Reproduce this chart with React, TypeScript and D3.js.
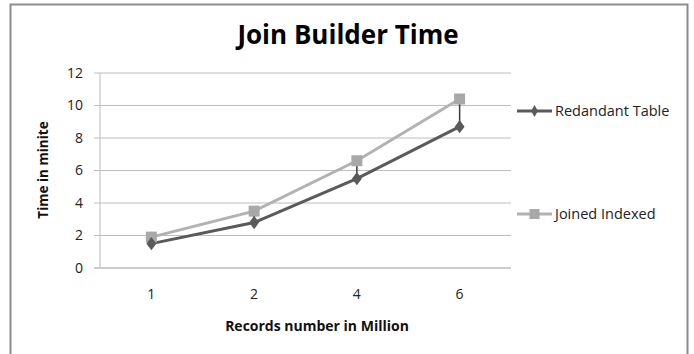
import React from "react";
import * as d3 from "d3";

const categories = ["1", "2", "4", "6"];
const redundantTable = [1.5, 2.8, 5.5, 8.7];
const joinedIndexed = [1.9, 3.5, 6.6, 10.4];
const yTicks = [0, 2, 4, 6, 8, 10, 12];
const seriesNames = ["Redandant Table", "Joined Indexed"];

const W = 694;
const H = 354;
const plot = { left: 100, right: 511, top: 73, bottom: 268 };
const darkColor = "#5a5a5a";
const lightColor = "#b2b2b2";
const font = "'Open Sans', 'DejaVu Sans', sans-serif";

export default function App() {
  const x = d3.scaleBand<string>().domain(categories).range([plot.left, plot.right]);
  const y = d3.scaleLinear().domain([0, 12]).range([plot.bottom, plot.top]);
  const cx = (c: string) => (x(c) as number) + x.bandwidth() / 2;
  const line = d3
    .line<number>()
    .x((_, i) => cx(categories[i]))
    .y((d) => y(d));
  const diamond = d3.symbol(d3.symbolDiamond, 64)() as string;

  return (
    <svg
      width={W}
      height={H}
      style={{ position: "absolute", left: 0, top: 0, background: "#fff" }}
    >
      <rect x={0} y={0} width={W} height={H} fill="#fff" />
      {/* outer chart border */}
      <path d={`M10.5,${H} V4.5 H687.5 V${H}`} fill="none" stroke="#8c8c8c" strokeWidth={2} />

      <text x={348} y={44} textAnchor="middle" fontFamily={font} fontWeight="bold" fontSize={26} fill="#000">
        Join Builder Time
      </text>

      {/* gridlines */}
      {yTicks.map((t) => (
        <line key={t} x1={plot.left - 6} x2={plot.right} y1={y(t)} y2={y(t)} stroke={t === 0 ? "#9a9a9a" : "#bdbdbd"} strokeWidth={1} />
      ))}
      <line x1={plot.left} x2={plot.left} y1={plot.top} y2={plot.bottom} stroke="#bdbdbd" />

      {yTicks.map((t) => (
        <text key={t} x={83} y={y(t)} dy="0.35em" textAnchor="end" fontFamily={font} fontSize={14} fill="#222">
          {t}
        </text>
      ))}
      {categories.map((c) => (
        <text key={c} x={cx(c)} y={294} dy="0.35em" textAnchor="middle" fontFamily={font} fontSize={14} fill="#222">
          {c}
        </text>
      ))}

      <text x={0} y={0} transform={`translate(43,170) rotate(-90)`} textAnchor="middle" dy="0.35em" fontFamily={font} fontWeight="bold" fontSize={13.5} fill="#111">
        Time  in minite
      </text>
      <text x={317} y={326} dy="0.35em" textAnchor="middle" fontFamily={font} fontWeight="bold" fontSize={14} fill="#111">
        Records number in Million
      </text>

      {/* series lines */}
      <path d={line(joinedIndexed) as string} fill="none" stroke={lightColor} strokeWidth={3} />
      <path d={line(redundantTable) as string} fill="none" stroke={darkColor} strokeWidth={3} />

      {/* high-low lines */}
      {categories.map((c, i) => (
        <line key={c} x1={cx(c)} x2={cx(c)} y1={y(joinedIndexed[i])} y2={y(redundantTable[i])} stroke="#3a3a3a" strokeWidth={1.5} />
      ))}

      {/* markers */}
      {categories.map((c, i) => (
        <rect key={c} x={cx(c) - 5.5} y={y(joinedIndexed[i]) - 5.5} width={11} height={11} fill="#a8a8a8" />
      ))}
      {categories.map((c, i) => (
        <path key={c} d={diamond} transform={`translate(${cx(c)},${y(redundantTable[i])}) scale(1.15,0.9)`} fill={darkColor} />
      ))}

      {/* legend */}
      <line x1={517} x2={552} y1={111} y2={111} stroke={darkColor} strokeWidth={3} />
      <path d={d3.symbol(d3.symbolDiamond, 40)() as string} transform="translate(534.5,111)" fill={darkColor} />
      <text x={555} y={111} dy="0.35em" fontFamily={font} fontSize={14.5} fill="#222">
        {seriesNames[0]}
      </text>
      <line x1={517} x2={552} y1={214} y2={214} stroke={lightColor} strokeWidth={3} />
      <rect x={529.5} y={209} width={10} height={10} fill="#a8a8a8" />
      <text x={555} y={214} dy="0.35em" fontFamily={font} fontSize={14.5} fill="#222">
        {seriesNames[1]}
      </text>
    </svg>
  );
}
